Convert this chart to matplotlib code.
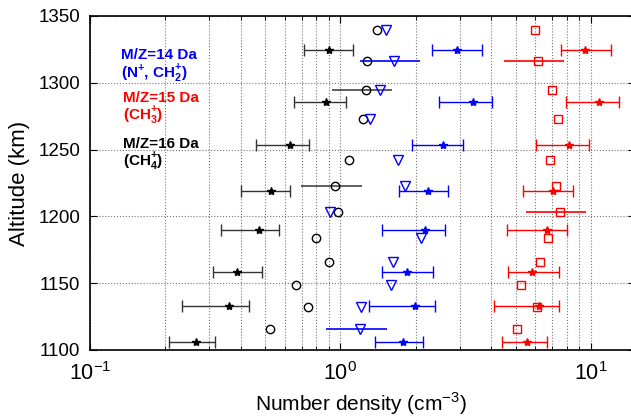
import numpy as np
import matplotlib
matplotlib.use('Agg')
import matplotlib.pyplot as plt
from matplotlib.ticker import LogLocator, NullFormatter

plt.rcParams['font.family'] = ['Liberation Sans', 'DejaVu Sans']
plt.rcParams['mathtext.fontset'] = 'custom'
plt.rcParams['mathtext.rm'] = 'Liberation Sans'
plt.rcParams['mathtext.bf'] = 'Liberation Sans:bold'

# altitudes of the measurements with error bars (star markers)
alt_star = [1105.8, 1133, 1158.7, 1189.8, 1218.7, 1253.8, 1285.8, 1324.2]
ch4_star = [0.264, 0.359, 0.385, 0.473, 0.526, 0.627, 0.877, 0.897]
ch4_lo = [0.207, 0.232, 0.311, 0.332, 0.402, 0.458, 0.654, 0.714]
ch4_hi = [0.316, 0.431, 0.487, 0.568, 0.630, 0.750, 1.055, 1.125]
m14_star = [1.78, 1.98, 1.84, 2.17, 2.24, 2.57, 3.37, 2.91]
m14_lo = [1.38, 1.30, 1.47, 1.46, 1.71, 1.93, 2.47, 2.33]
m14_hi = [2.14, 2.38, 2.35, 2.61, 2.69, 3.08, 4.04, 3.68]
m15_star = [5.57, 6.20, 5.80, 6.69, 7.07, 8.19, 10.73, 9.46]
m15_lo = [4.43, 4.09, 4.65, 4.62, 5.38, 6.02, 7.97, 7.59]
m15_hi = [6.69, 7.47, 7.47, 8.04, 8.49, 9.84, 12.9, 11.98]

# open markers (circle = 16 Da, triangle = 14 Da, square = 15 Da)
alt_open = [1116, 1132, 1148.5, 1166, 1184, 1203, 1222.5, 1242.5, 1273, 1294.5, 1316.5, 1339.3]
ch4_open = [0.523, 0.744, 0.667, 0.902, 0.798, 0.98, 0.95, 1.08, 1.23, 1.26, 1.272, 1.395]
m14_open = [1.20, 1.21, 1.59, 1.62, 2.10, 0.908, 1.81, 1.69, 1.31, 1.44, 1.64, 1.52]
m15_open = [5.08, 6.09, 5.26, 6.26, 6.75, 7.52, 7.23, 6.88, 7.41, 6.99, 6.16, 6.0]
nan = np.nan
ch4_open_lo = [nan, nan, nan, nan, nan, nan, 0.695, nan, nan, 0.923, nan, nan]
ch4_open_hi = [nan, nan, nan, nan, nan, nan, 1.215, nan, nan, 1.60, nan, nan]
m14_open_lo = [0.875, nan, nan, nan, nan, nan, nan, nan, nan, nan, 1.196, nan]
m14_open_hi = [1.53, nan, nan, nan, nan, nan, nan, nan, nan, nan, 2.07, nan]
m15_open_lo = [nan, nan, nan, nan, nan, 5.50, nan, nan, nan, nan, 4.49, nan]
m15_open_hi = [nan, nan, nan, nan, nan, 9.55, nan, nan, nan, nan, 7.80, nan]


def err(v, lo, hi):
    v = np.array(v, dtype=float)
    return [v - np.array(lo, dtype=float), np.array(hi, dtype=float) - v]


fig = plt.figure(figsize=(6.31, 4.17), dpi=100)
ax = fig.add_axes([90 / 631, 1 - 350 / 417, 545 / 631, 334 / 417])

# open markers with occasional bars
ax.errorbar(ch4_open, alt_open, xerr=err(ch4_open, ch4_open_lo, ch4_open_hi),
            fmt='o', mfc='none', mec='black', ms=6, mew=1,
            ecolor='#444444', elinewidth=1.2, capsize=0)
ax.errorbar(m14_open, alt_open, xerr=err(m14_open, m14_open_lo, m14_open_hi),
            fmt='v', mfc='none', mec='blue', ms=7, mew=1,
            ecolor='blue', elinewidth=1.2, capsize=0)
ax.errorbar(m15_open, alt_open, xerr=err(m15_open, m15_open_lo, m15_open_hi),
            fmt='s', mfc='none', mec='red', ms=6, mew=1,
            ecolor='red', elinewidth=1.2, capsize=0)

# star markers with capped bars
ax.errorbar(ch4_star, alt_star, xerr=err(ch4_star, ch4_lo, ch4_hi),
            fmt='*', color='black', ms=6, ecolor='#333333',
            elinewidth=1, capsize=4, capthick=1)
ax.errorbar(m14_star, alt_star, xerr=err(m14_star, m14_lo, m14_hi),
            fmt='*', color='blue', ms=6, ecolor='blue',
            elinewidth=1, capsize=4, capthick=1)
ax.errorbar(m15_star, alt_star, xerr=err(m15_star, m15_lo, m15_hi),
            fmt='*', color='red', ms=6, ecolor='red',
            elinewidth=1, capsize=4, capthick=1)

ax.set_xscale('log')
ax.set_xlim(0.1, 15)
ax.set_ylim(1100, 1350)
ax.set_yticks([1100, 1150, 1200, 1250, 1300, 1350])
ax.xaxis.set_minor_locator(LogLocator(base=10, subs=np.arange(2, 10)))
ax.xaxis.set_minor_formatter(NullFormatter())
ax.tick_params(which='both', direction='in', top=True, right=True)
ax.tick_params(which='major', length=5)
ax.tick_params(which='minor', length=3)
ax.tick_params(axis='y', labelsize=13.5, pad=7)
ax.tick_params(axis='x', labelsize=15.5, pad=9)
ax.grid(True, which='both', axis='x', linestyle=':', color='#777777', linewidth=0.8)
ax.grid(True, which='major', axis='y', linestyle=':', color='#777777', linewidth=0.8)
for s in ax.spines.values():
    s.set_linewidth(1.2)

ax.set_xlabel('Number density (cm$^{-3}$)', fontsize=15)
ax.set_ylabel('Altitude (km)', fontsize=16)
ax.xaxis.set_label_coords(0.497, -0.12)
ax.yaxis.set_label_coords(-0.11, 0.5)

kw = dict(transform=ax.transAxes, fontsize=11, fontweight='bold', va='baseline')
ax.text(0.056, 0.870, 'M/Z=14 Da', color='blue', **kw)
ax.text(0.056, 0.814, r'(N$^\mathbf{+}$, CH$_\mathbf{2}^\mathbf{+}$)', color='blue', **kw)
ax.text(0.061, 0.744, 'M/Z=15 Da', color='red', **kw)
ax.text(0.061, 0.690, r'(CH$_\mathbf{3}^\mathbf{+}$)', color='red', **kw)
ax.text(0.060, 0.604, 'M/Z=16 Da', color='black', **kw)
ax.text(0.060, 0.552, r'(CH$_\mathbf{4}^\mathbf{+}$)', color='black', **kw)

fig.savefig('out.png', dpi=100)
